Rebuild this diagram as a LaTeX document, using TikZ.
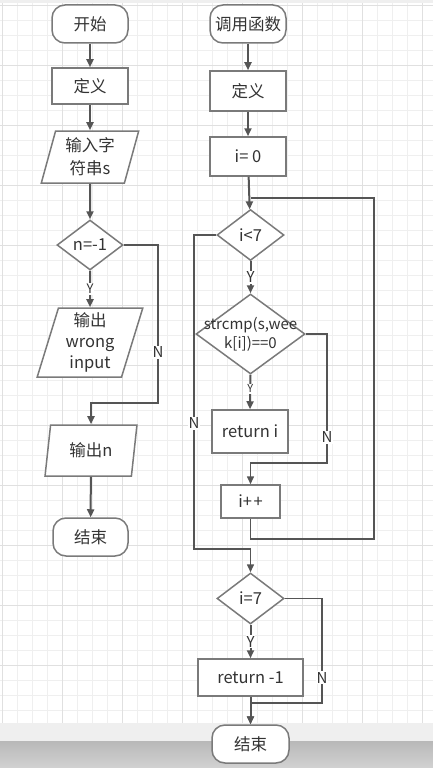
\documentclass[tikz,border=0pt]{standalone}
\usepackage{fontspec}
\setmainfont{Noto Sans CJK SC}
\usetikzlibrary{arrows.meta,shapes.geometric}
\definecolor{bordc}{HTML}{7A7A7A}
\definecolor{linec}{HTML}{555555}
\definecolor{txtc}{HTML}{333333}
\definecolor{gminor}{HTML}{EFEFEF}
\definecolor{gmajor}{HTML}{E0E0E0}
\definecolor{bandl}{HTML}{EFEFEF}
\definecolor{bandd1}{HTML}{B8B8B8}
\definecolor{bandd2}{HTML}{D2D2D2}
\begin{document}
\begin{tikzpicture}[x=1pt,y=-1pt,
  basic/.style={draw=bordc, line width=1.5pt, fill=white, inner sep=0pt, text=txtc, font=\fontsize{16.5}{21}\selectfont, align=center},
  box/.style={basic, minimum width=76pt, minimum height=38pt},
  term/.style={box, rounded corners=13pt},
  dia/.style={basic, shape=diamond, minimum width=67pt, minimum height=51pt},
  para/.style={basic, shape=trapezium, trapezium stretches=true},
  conn/.style={draw=linec, line width=2pt, -{Triangle[length=8pt,width=7pt]}},
  loopl/.style={draw=linec, line width=1.5pt},
  lab/.style={fill=white, inner sep=1pt, text=txtc, font=\fontsize{15}{15}\selectfont},
  slab/.style={lab, font=\fontsize{13}{13}\selectfont}
]
\useasboundingbox (0,0) rectangle (433,768);
\fill[white] (0,0) rectangle (433,768);
% grid
\foreach \x in {2,17,...,432} \draw[gminor, line width=0.8pt] (\x,0) -- (\x,723);
\foreach \y in {5,20,...,722} \draw[gminor, line width=0.8pt] (0,\y) -- (433,\y);
\foreach \x in {2,62,...,432} \draw[gmajor, line width=0.9pt] (\x,0) -- (\x,723);
\foreach \y in {5,65,...,722} \draw[gmajor, line width=0.9pt] (0,\y) -- (433,\y);
\fill[bandl] (0,0) rectangle (433,3);
% bottom band
\fill[bandl] (0,723) rectangle (433,741);
\shade[top color=bandd1, bottom color=bandd2] (0,741) rectangle (433,768);

% left column
\node[term] (start1) at (90,24) {开始};
\node[box, minimum height=36pt] (def1) at (90,86) {定义};
\node[para, trapezium left angle=75, trapezium right angle=105, minimum width=98pt, minimum height=52pt, font=\fontsize{16.5}{23}\selectfont] (in1) at (90,157) {输入字\\符串s};
\node[dia, minimum width=66pt, minimum height=50pt] (d1) at (90,245) {n=-1};
\node[para, trapezium left angle=74.6, trapezium right angle=105.4, minimum width=106pt, minimum height=69pt] (out1) at (90,342.5) {输出\\wrong\\input};
\node[para, trapezium left angle=79, trapezium right angle=101, minimum width=92pt, minimum height=51pt] (out2) at (91,450.5) {输出n};
\node[term, minimum width=75pt] (end1) at (90.5,537) {结束};
\coordinate (c1) at (158,403);

\draw[conn] (start1) -- (def1);
\draw[conn] (def1) -- (in1);
\draw[conn] (in1) -- (d1);
\draw[conn] (d1.south) -- node[slab, pos=0.5] {Y} (out1.north);
\draw[conn] (d1.east) -| (c1) -| (out2.north);
\path (d1.east) -| node[lab, pos=0.84] {N} (c1);
\draw[conn] (out2) -- (end1);

% right column
\node[term] (start2) at (248,24) {调用函数};
\node[box, minimum height=40pt] (def2) at (248,91) {定义};
\node[box, minimum height=39pt] (init) at (248,156.5) {i= 0};
\node[dia] (d2) at (250.5,235) {i<7};
\node[basic, shape=diamond, minimum width=109pt, minimum height=80pt] (cmp) at (250.5,334) {};
\node[text=txtc, font=\fontsize{15}{19}\selectfont, align=center, inner sep=0pt] (cmpt) at (cmp.center) {strcmp(s,wee\\k[i])==0};
\node[box, minimum height=43pt] (ret) at (250,431.5) {return i};
\node[box, minimum width=59pt, minimum height=33pt] (inc) at (250.5,501.5) {i+\kern1.5pt+};
\node[dia] (d3) at (250.5,598.5) {i=7};
\node[box, minimum width=105pt, minimum height=37pt] (ret2) at (250.5,677.5) {return -1};
\node[term, minimum width=77pt] (end2) at (250.5,744) {结束};
\coordinate (j1) at (250.5,198);
\coordinate (lp) at (374,539);
\coordinate (c2) at (194,549);
\coordinate (c3) at (327,463);
\coordinate (c4) at (322,703);

\draw[conn] (start2) -- (def2);
\draw[conn] (def2) -- (init);
\draw[conn] (init) -- (d2);
\draw[loopl] (inc.south) |- (lp) |- (j1);
\draw[conn, line width=1.5pt] (d2.west) -| (c2) -| (d3.north);
\path (d2.west) -| node[lab, pos=0.8] {N} (c2);
\draw[conn] (d2.south) -- node[lab, pos=0.5] {Y} (cmp.north);
\draw[conn] (cmp.south) -- node[slab, font=\fontsize{11}{11}\selectfont, pos=0.4] {Y} (ret.north);
\draw[conn, line width=1.5pt] (cmp.east) -| (c3) -| (inc.north);
\path (cmp.east) -| node[lab, pos=0.9] {N} (c3);
\draw[conn] (d3.south) -- node[lab, pos=0.5] {Y} (ret2.north);
\draw[conn, line width=1.5pt] (d3.east) -| (c4) -| (end2.north);
\path (d3.east) -| node[lab, pos=0.88] {N} (c4);
\draw[conn] (ret2) -- (end2);
\end{tikzpicture}
\end{document}
